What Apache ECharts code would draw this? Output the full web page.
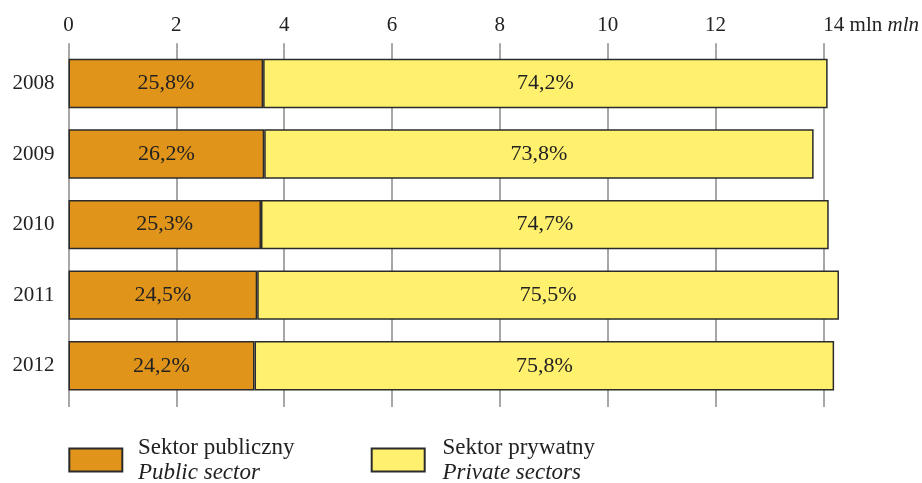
<!DOCTYPE html>
<html><head><meta charset="utf-8">
<script src="https://cdn.jsdelivr.net/npm/echarts@6/dist/echarts.min.js"></script>
<style>html,body{margin:0;padding:0;background:#fff}#c{width:922px;height:483px}</style>
</head><body><div id="c"></div>
<script>
const years = ['2008', '2009', '2010', '2011', '2012'];
const publicVals = [3.61, 3.63, 3.57, 3.50, 3.45];      // mln
const privateVals = [10.47, 10.19, 10.53, 10.79, 10.75]; // mln
const publicPct = ['25,8%', '26,2%', '25,3%', '24,5%', '24,2%'];
const privatePct = ['74,2%', '73,8%', '74,7%', '75,5%', '75,8%'];
const xTicks = [0, 2, 4, 6, 8, 10, 12, 14];
const seriesNames = ['Sektor publiczny', 'Sektor prywatny'];
const seriesNamesEn = ['Public sector', 'Private sectors'];

const FONT = '"Liberation Serif", "DejaVu Serif", serif';
const chart = echarts.init(document.getElementById('c'));
const legendFmt = name => {
  const i = seriesNames.indexOf(name);
  return '{a|' + name + '}\n{b|' + seriesNamesEn[i] + '}';
};
const legendRich = {
  a: {fontFamily: FONT, fontSize: 23, color: '#222', lineHeight: 25},
  b: {fontFamily: FONT, fontSize: 23, color: '#222', fontStyle: 'italic', lineHeight: 25}
};
const xCommon = {
  type: 'value', min: xTicks[0], max: xTicks[xTicks.length - 1], interval: 2,
  axisLine: {show: false}
};
chart.setOption({
  animation: false,
  grid: {left: 68.5, right: 98.3, top: 48.2, bottom: 82},
  xAxis: [
    Object.assign({}, xCommon, {
      position: 'top',
      axisTick: {show: true, length: 5, lineStyle: {color: '#8a8a8a', width: 1.5}},
      splitLine: {show: true, lineStyle: {color: '#8a8a8a', width: 1.5}},
      axisLabel: {
        margin: 12, color: '#222', fontFamily: FONT, fontSize: 21,
        alignMaxLabel: 'left',
        formatter: v => v === 14 ? '{n|14 mln }{i|mln}' : String(v),
        rich: {
          n: {fontFamily: FONT, fontSize: 21, color: '#222'},
          i: {fontFamily: FONT, fontSize: 21, color: '#222', fontStyle: 'italic'}
        }
      }
    }),
    Object.assign({}, xCommon, {
      position: 'bottom',
      axisTick: {show: true, length: 6, lineStyle: {color: '#8a8a8a', width: 1.5}},
      splitLine: {show: false},
      axisLabel: {show: false}
    })
  ],
  yAxis: {
    type: 'category', data: years, inverse: true,
    axisLine: {show: false}, axisTick: {show: false},
    axisLabel: {margin: 14, color: '#222', fontFamily: FONT, fontSize: 21}
  },
  legend: [
    {data: [seriesNames[0]], left: 63.3, top: 431, icon: 'rect', itemWidth: 53, itemHeight: 23, itemGap: 0,
     formatter: legendFmt, textStyle: {rich: legendRich, padding: [0, 0, 0, 10.6]}},
    {data: [seriesNames[1]], left: 365.7, top: 431, icon: 'rect', itemWidth: 53, itemHeight: 23, itemGap: 0,
     formatter: legendFmt, textStyle: {rich: legendRich, padding: [0, 0, 0, 12.7]}}
  ],
  series: [
    {
      name: seriesNames[0], type: 'bar', stack: 'total', barWidth: '70%', clip: false,
      data: publicVals,
      itemStyle: {color: '#E0941A', borderColor: '#2b2b2b', borderWidth: 1.5},
      label: {show: true, position: 'inside', color: '#222', fontFamily: FONT, fontSize: 22,
              formatter: p => publicPct[p.dataIndex]}
    },
    {
      name: seriesNames[1], type: 'bar', stack: 'total', barWidth: '70%', clip: false,
      data: privateVals,
      itemStyle: {color: '#FFF06E', borderColor: '#2b2b2b', borderWidth: 1.5},
      label: {show: true, position: 'inside', color: '#222', fontFamily: FONT, fontSize: 22,
              formatter: p => privatePct[p.dataIndex]}
    }
  ]
});
</script></body></html>
